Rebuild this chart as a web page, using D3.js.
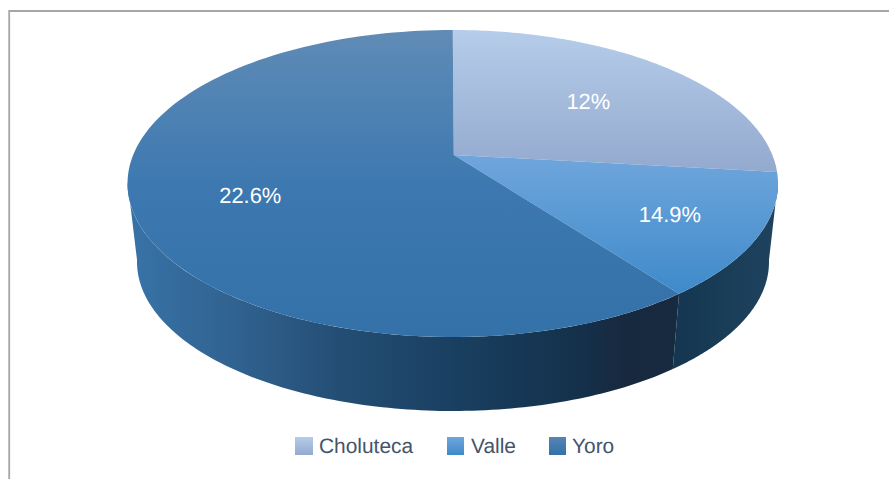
<!DOCTYPE html>
<html>
<head>
<meta charset="utf-8">
<script src="https://cdnjs.cloudflare.com/ajax/libs/d3/7.8.5/d3.min.js"></script>
<style>
  html, body { margin: 0; padding: 0; background: #fff; }
  svg { display: block; }
  text { font-family: "Liberation Sans", Arial, sans-serif; text-rendering: geometricPrecision; }
</style>
</head>
<body>
<svg id="chart" width="889" height="479"></svg>
<script>
const categories = ['Choluteca', 'Valle', 'Yoro'];
const labels = ['12%', '14.9%', '22.6%'];
// the printed labels don't add up to the drawn slices, so wedge sizes are read off the picture
const sliceShares = [26.8, 12.9, 60.3];

const width = 889;
const height = 479;
const svg = d3.select('#chart');

// unit disc -> screen, top face and the smaller bottom ring
const topX = d3.scaleLinear().domain([-1, 1]).range([127.5, 778]);
const topY = d3.scaleLinear().domain([-1, 1]).range([30, 337]);
const botX = d3.scaleLinear().domain([-1, 1]).range([137, 769]);
const botY = d3.scaleLinear().domain([-1, 1]).range([113, 411]);

// perspective: the true centre of the disc lands above the middle of the ellipse
const tilt = -0.186;
const project = (a, r = 1) => {
  const x = r * Math.sin(a);
  const y = -r * Math.cos(a);
  const w = 1 + tilt * y;
  return [x * Math.sqrt(1 - tilt * tilt) / w, (y + tilt) / w];
};
const onTop = (a, r) => { const p = project(a, r); return [topX(p[0]), topY(p[1])]; };
const onBot = (a, r) => { const p = project(a, r); return [botX(p[0]), botY(p[1])]; };

const slices = d3.pie().sort(null).value((d) => d)(sliceShares);
const line = d3.line();
const sample = (a0, a1, fn) => d3.range(0, 121).map((i) => fn(a0 + ((a1 - a0) * i) / 120));

const defs = svg.append('defs');
const vGrad = (id, y1, y2, stops) => {
  const g = defs.append('linearGradient').attr('id', id)
    .attr('gradientUnits', 'userSpaceOnUse')
    .attr('x1', 0).attr('x2', 0).attr('y1', y1).attr('y2', y2);
  stops.forEach((s) => g.append('stop').attr('offset', s[0]).attr('stop-color', s[1]));
};
const hGrad = (id, x1, x2, stops) => {
  const g = defs.append('linearGradient').attr('id', id)
    .attr('gradientUnits', 'userSpaceOnUse')
    .attr('y1', 0).attr('y2', 0).attr('x1', x1).attr('x2', x2);
  stops.forEach((s) => g.append('stop').attr('offset', s[0]).attr('stop-color', s[1]));
};

vGrad('top0', 30, 172, [[0, '#B5CDEA'], [1, '#93A9CE']]);
vGrad('top1', 155, 294, [[0, '#6FA6DC'], [1, '#3F8ACA']]);
vGrad('top2', 30, 337, [[0, '#608BB6'], [0.5, '#3D79B0'], [1, '#3371A8']]);
hGrad('wall1', 673, 778, [[0, '#143650'], [1, '#1F435F']]);
hGrad('wall2', 127, 680, [[0, '#3873A8'], [0.2, '#30628F'], [0.38, '#244E75'],
  [0.6, '#193F60'], [0.8, '#14324D'], [0.9, '#17293F'], [1, '#162A40']]);

// frame: only the top and left edges are in the picture
svg.append('path')
  .attr('d', line([[9.2, height], [9.2, 11], [width, 11]]))
  .attr('fill', 'none')
  .attr('stroke', '#A6A6A6')
  .attr('stroke-width', 1.8);

// side walls, only the part facing the viewer
const wallFrom = (100 * Math.PI) / 180;
const wallTo = (260 * Math.PI) / 180;
slices.forEach((s, i) => {
  const a0 = Math.max(s.startAngle, wallFrom);
  const a1 = Math.min(s.endAngle, wallTo);
  if (a1 <= a0) return;
  const pts = sample(a0, a1, onTop).concat(sample(a1, a0, onBot));
  svg.append('path')
    .attr('d', `${line(pts)}Z`)
    .attr('fill', `url(#wall${i})`);
});

// top face, the apex sits a pixel right of the ellipse middle
const apex = onTop(0, 0);
apex[0] += 1;
slices.forEach((s, i) => {
  const pts = [apex].concat(sample(s.startAngle, s.endAngle, onTop));
  svg.append('path')
    .attr('d', `${line(pts)}Z`)
    .attr('fill', `url(#top${i})`);
});

// data labels sit on their wedges, nudged to where the picture has them
const labelRadius = [0.72, 0.72, 0.6];
const labelNudge = [[-22, 14], [3, 5], [-14, 13]];
slices.forEach((s, i) => {
  const mid = (s.startAngle + s.endAngle) / 2;
  const p = onTop(mid, labelRadius[i]);
  svg.append('text')
    .attr('class', 'label')
    .attr('x', p[0] + labelNudge[i][0])
    .attr('y', p[1] + labelNudge[i][1])
    .attr('text-anchor', 'middle')
    .attr('dominant-baseline', 'middle')
    .attr('fill', '#fff')
    .attr('font-size', 21.9)
    .text(labels[i]);
});

// legend
const legendX = [295, 447, 549];
const legendW = [18, 17, 17];
const legendTextX = [319, 471, 572];
const legend = svg.append('g');
categories.forEach((c, i) => {
  vGrad(`leg${i}`, 437, 455, [
    [0, ['#B5CDEA', '#6FA6DC', '#5585B5'][i]],
    [1, ['#93A9CE', '#3F8ACA', '#3371A8'][i]],
  ]);
  legend.append('rect')
    .attr('x', legendX[i])
    .attr('y', 437)
    .attr('width', legendW[i])
    .attr('height', 18)
    .attr('fill', `url(#leg${i})`);
  legend.append('text')
    .attr('x', legendTextX[i])
    .attr('y', 453)
    .attr('fill', '#44546A')
    .attr('font-size', 20.9)
    .text(c);
});
</script>
</body>
</html>
